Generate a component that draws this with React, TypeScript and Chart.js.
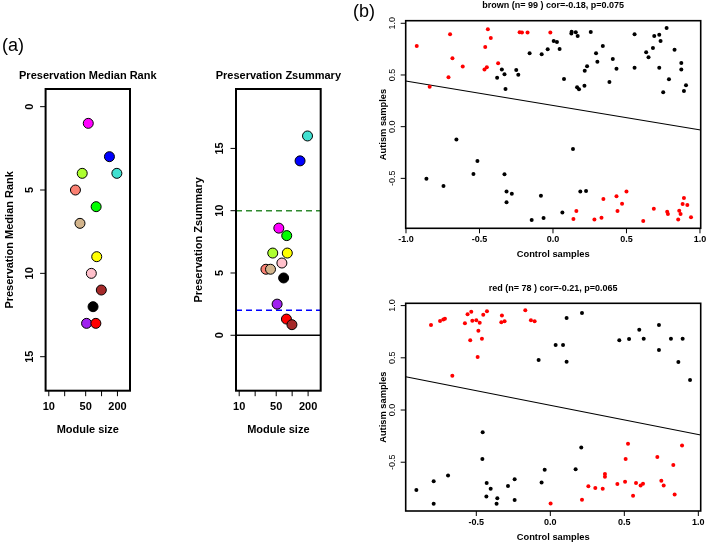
import React, { useEffect, useRef } from "react";
import { Chart, registerables } from "chart.js";

Chart.register(...registerables);

// ---------- Panel (a): module preservation ----------
const moduleNames = ["turquoise", "blue", "magenta", "green", "greenyellow", "yellow", "pink", "salmon", "tan", "black", "purple", "red", "brown"];
const moduleColors = ["#40E0D0", "#0000FF", "#FF00FF", "#00FF00", "#ADFF2F", "#FFFF00", "#FFC0CB", "#FA8072", "#D2B48C", "#000000", "#A020F0", "#FF0000", "#A52A2A"];
const moduleSize = [195, 141, 56, 79, 43, 81, 64, 32, 39, 69, 52, 78, 99];
const medianRank = [4, 3, 1, 6, 4, 9, 10, 5, 7, 12, 13, 13, 11];
const zSummary = [16.0, 14.0, 8.6, 8.0, 6.6, 6.6, 5.8, 5.3, 5.3, 4.6, 2.5, 1.3, 0.85];
const zThresholds = [10, 2, 0];

const sizeTicks = [10, 20, 50, 100, 200];
const sizeTickLabels = ["10", "", "50", "", "200"];
const rankTicks = [0, 5, 10, 15];
const rankTickLabels = ["0", "5", "10", "15"];
const zTicks = [0, 5, 10, 15];
const zTickLabels = ["0", "5", "10", "15"];

// ---------- Panel (b): module membership scatter ----------
const brownRed: [number, number][] = [
  [-0.927, 0.781], [-0.839, 0.387], [-0.70, 0.894], [-0.684, 0.661], [-0.711, 0.477], [-0.614, 0.581],
  [-0.443, 0.942], [-0.423, 0.858], [-0.461, 0.771], [-0.45, 0.574], [-0.466, 0.552], [-0.373, 0.613],
  [-0.227, 0.913], [-0.211, 0.91], [-0.173, 0.91], [-0.018, 0.91],
  [0.139, -0.894], [0.159, -0.816], [0.282, -0.897], [0.330, -0.881], [0.343, -0.70], [0.432, -0.674],
  [0.439, -0.816], [0.47, -0.745], [0.50, -0.626], [0.614, -0.913], [0.686, -0.793], [0.777, -0.823],
  [0.782, -0.845], [0.859, -0.813], [0.868, -0.845], [0.852, -0.897], [0.882, -0.748], [0.891, -0.69],
  [0.914, -0.758], [0.939, -0.877],
];
const brownBlack: [number, number][] = [
  [-0.38, 0.474], [-0.348, 0.552], [-0.33, 0.506], [-0.323, 0.365], [-0.25, 0.548], [-0.236, 0.503],
  [-0.159, 0.71], [-0.077, 0.70], [-0.036, 0.748], [0.005, 0.829], [0.027, 0.819], [0.045, 0.752],
  [0.075, 0.461], [0.125, 0.90], [0.127, 0.919], [0.155, 0.913], [0.168, 0.877], [0.164, 0.381],
  [0.177, 0.361], [0.214, 0.397], [0.216, 0.542], [0.232, 0.584], [0.257, 0.916], [0.293, 0.71],
  [0.302, 0.629], [0.339, 0.781], [0.384, 0.432], [0.407, 0.655], [0.432, 0.561], [0.555, 0.894],
  [0.555, 0.571], [0.634, 0.719], [0.65, 0.671], [0.68, 0.761], [0.689, 0.877], [0.723, 0.89],
  [0.732, 0.829], [0.723, 0.571], [0.75, 0.332], [0.773, 0.955], [0.789, 0.458], [0.827, 0.745],
  [0.873, 0.616], [0.873, 0.552], [0.891, 0.345], [0.905, 0.40],
  [-0.657, -0.123], [-0.514, -0.332], [-0.541, -0.458], [-0.33, -0.461], [-0.861, -0.503], [-0.745, -0.574],
  [-0.316, -0.626], [-0.28, -0.648], [-0.316, -0.732], [-0.082, -0.668], [-0.145, -0.903], [-0.064, -0.884],
  [0.064, -0.829], [0.136, -0.216], [0.186, -0.626], [0.225, -0.623],
];
const brownFitX = [-1.002, 1.005];
const brownFitY = [0.442, -0.032];

const redRed: [number, number][] = [
  [-0.806, 0.814], [-0.745, 0.852], [-0.723, 0.868], [-0.712, 0.875], [-0.662, 0.329], [-0.577, 0.83],
  [-0.559, 0.916], [-0.534, 0.942], [-0.527, 0.856], [-0.541, 0.667], [-0.50, 0.859], [-0.477, 0.836],
  [-0.486, 0.76], [-0.462, 0.683], [-0.491, 0.508], [-0.453, 0.913], [-0.428, 0.945], [-0.327, 0.904],
  [-0.331, 0.84], [-0.309, 0.849], [-0.169, 0.955], [-0.131, 0.859], [-0.106, 0.849],
  [0.002, -0.894], [0.214, -0.859], [0.257, -0.731], [0.304, -0.747], [0.354, -0.754], [0.369, -0.613],
  [0.369, -0.639], [0.453, -0.709], [0.505, -0.686], [0.509, -0.469], [0.525, -0.322], [0.559, -0.821],
  [0.579, -0.699], [0.61, -0.722], [0.626, -0.706], [0.723, -0.45], [0.75, -0.677], [0.766, -0.722],
  [0.831, -0.527], [0.84, -0.808], [0.89, -0.339],
];
const redBlack: [number, number][] = [
  [-0.079, 0.479], [0.036, 0.623], [0.086, 0.623], [0.11, 0.881], [0.11, 0.463], [0.214, 0.929],
  [0.466, 0.667], [0.532, 0.68], [0.601, 0.769], [0.631, 0.683], [0.734, 0.814], [0.734, 0.575],
  [0.815, 0.683], [0.865, 0.46], [0.894, 0.683], [0.944, 0.287],
  [-0.905, -0.766], [-0.788, -0.683], [-0.788, -0.897], [-0.691, -0.626], [-0.457, -0.214], [-0.459, -0.469],
  [-0.43, -0.699], [-0.403, -0.754], [-0.432, -0.827], [-0.358, -0.846], [-0.363, -0.897], [-0.286, -0.728],
  [-0.241, -0.664], [-0.241, -0.862], [-0.038, -0.572], [-0.059, -0.693], [0.171, -0.568], [0.209, -0.358],
];
const redFitX = [-0.977, 1.016];
const redFitY = [0.319, -0.239];

const brownXTicks = [-1, -0.5, 0, 0.5, 1];
const brownXTickLabels = ["-1.0", "-0.5", "0.0", "0.5", "1.0"];
const redXTicks = [-0.5, 0, 0.5, 1];
const redXTickLabels = ["-0.5", "0.0", "0.5", "1.0"];
const memberYTicks = [-0.5, 0, 0.5, 1];
const memberYTickLabels = ["-0.5", "0.0", "0.5", "1.0"];

// ---------- drawing helpers ----------
const W = 709;
const H = 544;
const FONT = "'Liberation Sans', Arial, Helvetica, sans-serif";

type Extra = { text: string; x: number; y: number; font: string; align?: CanvasTextAlign };

type RStyle = {
  boxLW: number;
  tickLen: number;
  xTicks: number[];
  xTickLabels: string[];
  xTickY: number;
  xTickFont: string;
  yTicks: number[];
  yTickLabels: string[];
  yTickX: number;
  yTickFont: string;
  title: string;
  titleY: number;
  titleFont: string;
  xTitle: string;
  xTitleY: number;
  yTitle: string;
  yTitleX: number;
  axisFont: string;
  extras?: Extra[];
};

function makeRPlugin(o: RStyle) {
  return {
    id: "rstyle",
    afterDatasetsDraw(chart: any) {
      const ctx: CanvasRenderingContext2D = chart.ctx;
      const a = chart.chartArea;
      const xs = chart.scales.x;
      const ys = chart.scales.y;
      ctx.save();
      ctx.strokeStyle = "#000";
      ctx.fillStyle = "#000";
      ctx.lineWidth = o.boxLW;
      ctx.strokeRect(a.left, a.top, a.right - a.left, a.bottom - a.top);
      ctx.lineWidth = 1;
      ctx.beginPath();
      o.xTicks.forEach((v) => {
        const px = xs.getPixelForValue(v);
        ctx.moveTo(px, a.bottom);
        ctx.lineTo(px, a.bottom + o.tickLen);
      });
      o.yTicks.forEach((v) => {
        const py = ys.getPixelForValue(v);
        ctx.moveTo(a.left, py);
        ctx.lineTo(a.left - o.tickLen, py);
      });
      ctx.stroke();
      ctx.textAlign = "center";
      ctx.textBaseline = "middle";
      ctx.font = o.xTickFont;
      o.xTicks.forEach((v, i) => {
        const t = o.xTickLabels[i];
        if (t) ctx.fillText(t, xs.getPixelForValue(v), o.xTickY);
      });
      ctx.font = o.yTickFont;
      o.yTicks.forEach((v, i) => {
        const py = ys.getPixelForValue(v);
        ctx.save();
        ctx.translate(o.yTickX, py);
        ctx.rotate(-Math.PI / 2);
        ctx.fillText(o.yTickLabels[i], 0, 0);
        ctx.restore();
      });
      const cx = (a.left + a.right) / 2;
      const cy = (a.top + a.bottom) / 2;
      ctx.font = o.titleFont;
      ctx.fillText(o.title, cx, o.titleY);
      ctx.font = o.axisFont;
      ctx.fillText(o.xTitle, cx, o.xTitleY);
      ctx.save();
      ctx.translate(o.yTitleX, cy);
      ctx.rotate(-Math.PI / 2);
      ctx.fillText(o.yTitle, 0, 0);
      ctx.restore();
      (o.extras || []).forEach((e) => {
        ctx.font = e.font;
        ctx.textAlign = e.align || "left";
        ctx.textBaseline = "alphabetic";
        ctx.fillText(e.text, e.x, e.y);
      });
      ctx.restore();
    },
  };
}

function baseOptions(box: { l: number; t: number; r: number; b: number }, scales: any) {
  return {
    responsive: false,
    animation: false as const,
    devicePixelRatio: 1,
    events: [],
    layout: { padding: { left: box.l, top: box.t, right: W - box.r, bottom: H - box.b } },
    plugins: { legend: { display: false }, tooltip: { enabled: false } },
    scales,
  };
}

function toPts(p: [number, number][]) {
  return p.map(([x, y]) => ({ x, y }));
}

function fitLine(xs: number[], ys: number[]) {
  return xs.map((x, i) => ({ x, y: ys[i] }));
}

const SIZE_MIN = 8.7;
const SIZE_MAX = 346;

function medianRankConfig(): any {
  const o: RStyle = {
    boxLW: 2,
    tickLen: 5.5,
    xTicks: sizeTicks,
    xTickLabels: sizeTickLabels,
    xTickY: 407,
    xTickFont: `bold 11px ${FONT}`,
    yTicks: rankTicks,
    yTickLabels: rankTickLabels,
    yTickX: 29.5,
    yTickFont: `bold 11px ${FONT}`,
    title: "Preservation Median Rank",
    titleY: 76,
    titleFont: `bold 11px ${FONT}`,
    xTitle: "Module size",
    xTitleY: 430,
    yTitle: "Preservation Median Rank",
    yTitleX: 9.5,
    axisFont: `bold 11px ${FONT}`,
    extras: [
      { text: "(a)", x: 2, y: 51, font: `18px ${FONT}` },
      { text: "(b)", x: 353, y: 17, font: `18px ${FONT}` },
    ],
  };
  return {
    type: "scatter",
    data: {
      datasets: [
        {
          label: "Median rank",
          data: moduleSize.map((s, i) => ({ x: s, y: medianRank[i] })),
          backgroundColor: moduleColors,
          borderColor: "#000",
          borderWidth: 1,
          pointRadius: 5,
        },
      ],
    },
    options: baseOptions(
      { l: 45.6, t: 89, r: 130, b: 390.7 },
      {
        x: { type: "logarithmic", min: SIZE_MIN, max: SIZE_MAX, display: false },
        y: { type: "linear", min: -1.06, max: 17.04, reverse: true, display: false },
      }
    ),
    plugins: [makeRPlugin(o)],
  };
}

function zSummaryConfig(): any {
  const o: RStyle = {
    boxLW: 2,
    tickLen: 5.5,
    xTicks: sizeTicks,
    xTickLabels: sizeTickLabels,
    xTickY: 407,
    xTickFont: `bold 11px ${FONT}`,
    yTicks: zTicks,
    yTickLabels: zTickLabels,
    yTickX: 219.5,
    yTickFont: `bold 11px ${FONT}`,
    title: "Preservation Zsummary",
    titleY: 76,
    titleFont: `bold 11px ${FONT}`,
    xTitle: "Module size",
    xTitleY: 430,
    yTitle: "Preservation Zsummary",
    yTitleX: 198.5,
    axisFont: `bold 11px ${FONT}`,
  };
  const lineColors = ["#2f8a2f", "#0000FF", "#000000"];
  const lineDash = [[6, 4], [6, 4], []];
  return {
    type: "scatter",
    data: {
      datasets: [
        {
          label: "Zsummary",
          data: moduleSize.map((s, i) => ({ x: s, y: zSummary[i] })),
          backgroundColor: moduleColors,
          borderColor: "#000",
          borderWidth: 1,
          pointRadius: 5,
        },
        ...zThresholds.map((t, i) => ({
          label: `threshold ${t}`,
          data: [
            { x: SIZE_MIN, y: t },
            { x: SIZE_MAX, y: t },
          ],
          showLine: true,
          pointRadius: 0,
          borderColor: lineColors[i],
          borderWidth: 1.5,
          borderDash: lineDash[i],
        })),
      ],
    },
    options: baseOptions(
      { l: 236, t: 89, r: 320.7, b: 390.7 },
      {
        x: { type: "logarithmic", min: SIZE_MIN, max: SIZE_MAX, display: false },
        y: { type: "linear", min: -4.45, max: 19.77, display: false },
      }
    ),
    plugins: [makeRPlugin(o)],
  };
}

function memberConfig(p: {
  red: [number, number][];
  black: [number, number][];
  fitX: number[];
  fitY: number[];
  box: { l: number; t: number; r: number; b: number };
  xMin: number;
  xMax: number;
  yMin: number;
  yMax: number;
  xTicks: number[];
  xTickLabels: string[];
  title: string;
  titleY: number;
  xTickY: number;
  xTitleY: number;
}): any {
  const o: RStyle = {
    boxLW: 1.6,
    tickLen: 5,
    xTicks: p.xTicks,
    xTickLabels: p.xTickLabels,
    xTickY: p.xTickY,
    xTickFont: `bold 9px ${FONT}`,
    yTicks: memberYTicks,
    yTickLabels: memberYTickLabels,
    yTickX: 392.3,
    yTickFont: `9px ${FONT}`,
    title: p.title,
    titleY: p.titleY,
    titleFont: `bold 9px ${FONT}`,
    xTitle: "Control samples",
    xTitleY: p.xTitleY,
    yTitle: "Autism samples",
    yTitleX: 383.7,
    axisFont: `bold 9.3px ${FONT}`,
  };
  return {
    type: "scatter",
    data: {
      datasets: [
        { label: "red", data: toPts(p.red), backgroundColor: "#FF0000", borderWidth: 0, pointRadius: 2.0 },
        { label: "black", data: toPts(p.black), backgroundColor: "#000000", borderWidth: 0, pointRadius: 2.0 },
        {
          label: "fit",
          data: fitLine(p.fitX, p.fitY),
          showLine: true,
          pointRadius: 0,
          borderColor: "#000",
          borderWidth: 1.1,
        },
      ],
    },
    options: baseOptions(p.box, {
      x: { type: "linear", min: p.xMin, max: p.xMax, display: false },
      y: { type: "linear", min: p.yMin, max: p.yMax, display: false },
    }),
    plugins: [makeRPlugin(o)],
  };
}

function ChartCanvas({ make }: { make: () => any }) {
  const ref = useRef<HTMLCanvasElement>(null);
  useEffect(() => {
    const chart = new Chart(ref.current as HTMLCanvasElement, make());
    return () => chart.destroy();
  }, [make]);
  return <canvas ref={ref} width={W} height={H} style={{ position: "absolute", left: 0, top: 0, width: W, height: H }} />;
}

const makeBrown = () =>
  memberConfig({
    red: brownRed,
    black: brownBlack,
    fitX: brownFitX,
    fitY: brownFitY,
    box: { l: 405.7, t: 20.7, r: 700.7, b: 228.3 },
    xMin: -1.002,
    xMax: 1.005,
    yMin: -0.983,
    yMax: 1.025,
    xTicks: brownXTicks,
    xTickLabels: brownXTickLabels,
    title: "brown (n= 99 ) cor=-0.18, p=0.075",
    titleY: 6,
    xTickY: 239.5,
    xTitleY: 254.5,
  });

const makeRed = () =>
  memberConfig({
    red: redRed,
    black: redBlack,
    fitX: redFitX,
    fitY: redFitY,
    box: { l: 405.7, t: 303.3, r: 700.7, b: 511 },
    xMin: -0.977,
    xMax: 1.016,
    yMin: -0.967,
    yMax: 1.022,
    xTicks: redXTicks,
    xTickLabels: redXTickLabels,
    title: "red (n= 78 ) cor=-0.21, p=0.065",
    titleY: 288.5,
    xTickY: 522.5,
    xTitleY: 537,
  });

export default function App() {
  return (
    <div
      style={{ position: "absolute", left: 0, top: 0, width: W, height: H, background: "#fff", overflow: "hidden" }}
      data-modules={moduleNames.join(",")}
    >
      <ChartCanvas make={medianRankConfig} />
      <ChartCanvas make={zSummaryConfig} />
      <ChartCanvas make={makeBrown} />
      <ChartCanvas make={makeRed} />
    </div>
  );
}
